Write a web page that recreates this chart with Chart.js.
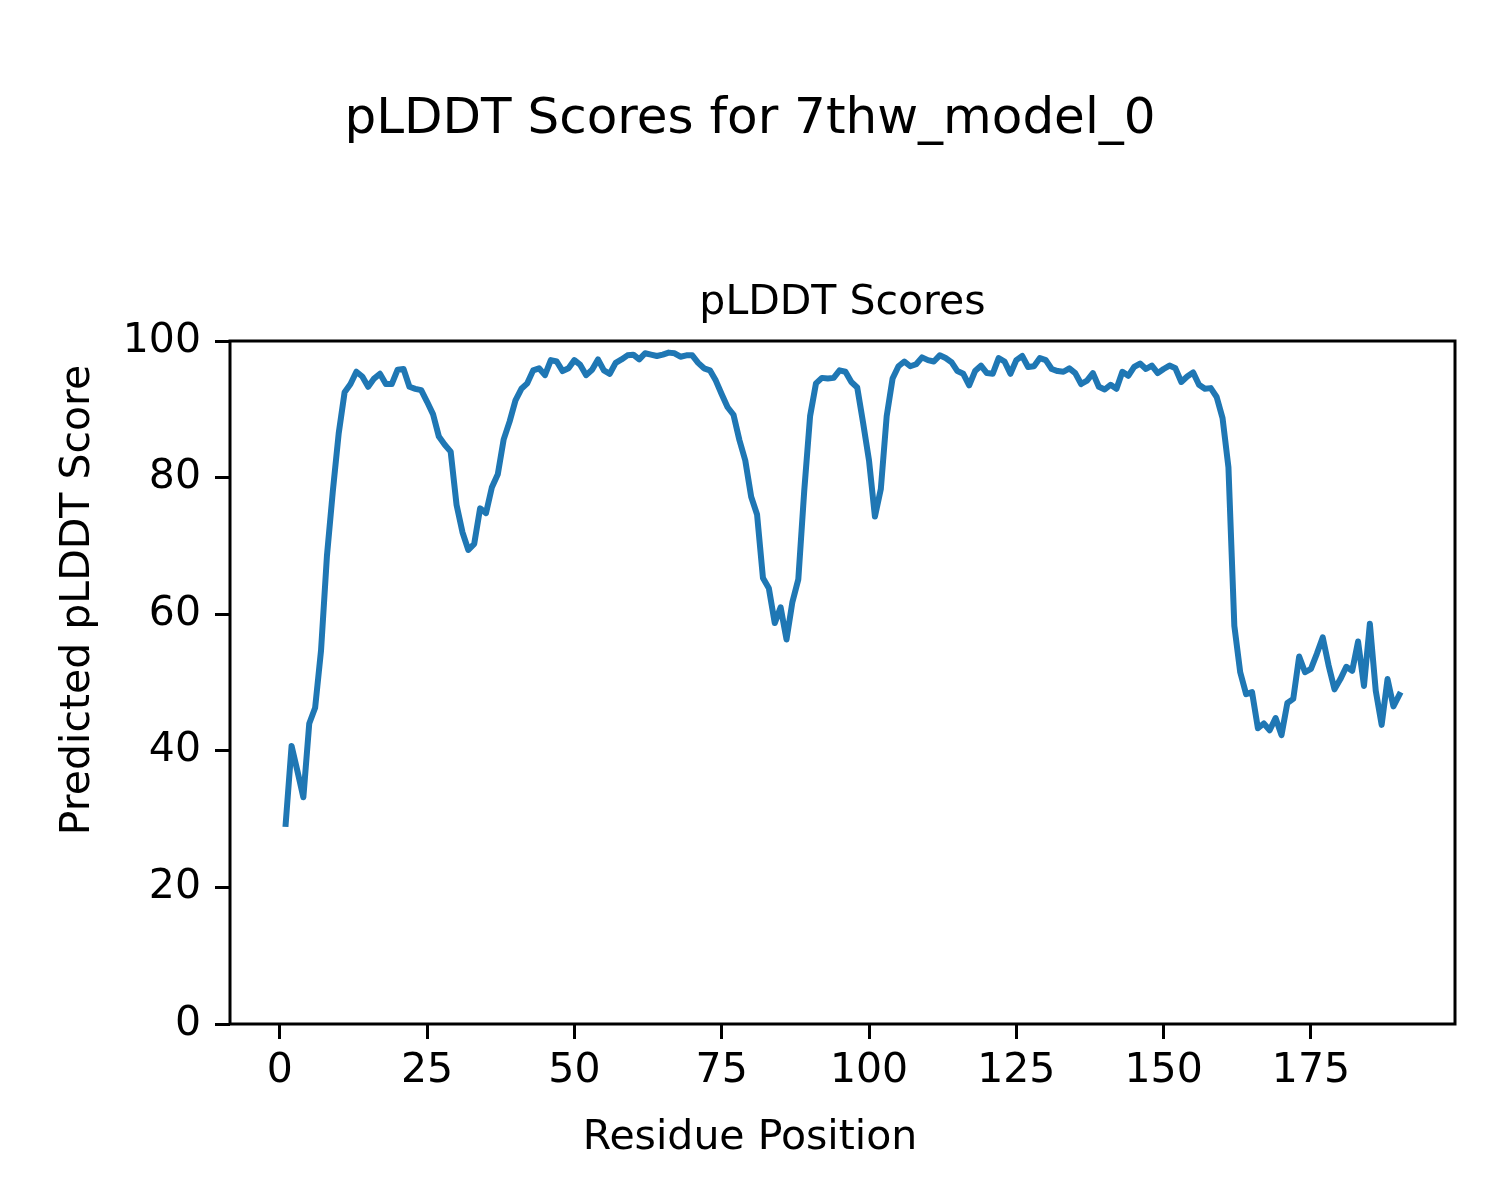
<!DOCTYPE html>
<html>
<head>
<meta charset="UTF-8">
<title>pLDDT Scores</title>
<style>
	body {margin: 0; background: #fff;}
	canvas {display: block;}
</style>
</head>
<body>
	<canvas id="myChart" width="1500" height="1200"></canvas>
<script src="https://cdn.jsdelivr.net/npm/chart.js@4.4.1/dist/chart.umd.min.js"></script>
<script>
	// residue positions 1..190 and the score
	const residues = [];
	for (let i = 1; i <= 190; i++) residues.push(i);

	const scores = [
		29.3, 40.7, 37.0, 33.2, 44.0, 46.3, 54.7, 68.5, 78.0, 86.5,
		92.5, 93.7, 95.5, 94.8, 93.3, 94.5, 95.2, 93.7, 93.7, 95.8,
		95.9, 93.3, 93.0, 92.8, 91.1, 89.3, 86.0, 84.8, 83.8, 76.0,
		72.0, 69.4, 70.3, 75.5, 74.8, 78.6, 80.5, 85.6, 88.2, 91.3,
		93.0, 93.8, 95.7, 96.0, 95.0, 97.2, 97.0, 95.6, 96.0, 97.2,
		96.5, 95.0, 95.8, 97.3, 95.7, 95.2, 96.8, 97.3, 97.9, 98.0,
		97.3, 98.2, 98.0, 97.8, 98.0, 98.3, 98.2, 97.7, 97.9, 97.9,
		96.8, 96.0, 95.7, 94.2, 92.2, 90.3, 89.2, 85.5, 82.5, 77.2,
		74.6, 65.3, 63.8, 58.7, 61.0, 56.3, 61.8, 65.1, 78.0, 89.0,
		93.8, 94.6, 94.5, 94.6, 95.7, 95.5, 94.0, 93.2, 88.0, 82.5,
		74.3, 78.3, 89.0, 94.5, 96.3, 97.0, 96.3, 96.6, 97.6, 97.2,
		97.0, 97.9, 97.5, 96.9, 95.6, 95.2, 93.5, 95.6, 96.4, 95.3,
		95.2, 97.5, 97.0, 95.2, 97.2, 97.8, 96.2, 96.3, 97.5, 97.2,
		95.9, 95.6, 95.5, 96.0, 95.3, 93.7, 94.2, 95.3, 93.3, 92.9,
		93.6, 93.0, 95.5, 94.9, 96.2, 96.7, 95.9, 96.4, 95.3, 95.9,
		96.4, 96.0, 94.0, 94.8, 95.4, 93.6, 93.0, 93.1, 91.8, 88.7,
		81.5, 58.3, 51.5, 48.3, 48.6, 43.3, 44.0, 43.0, 44.8, 42.3,
		47.0, 47.6, 53.8, 51.5, 52.0, 54.2, 56.6, 52.5, 49.0, 50.5,
		52.3, 51.7, 56.0, 49.5, 58.6, 48.8, 43.8, 50.5, 46.5, 48.2
	];

	const xTicks = [0, 25, 50, 75, 100, 125, 150, 175];
	const yTicks = [0, 20, 40, 60, 80, 100];

	const FONT = "'DejaVu Sans', sans-serif";

	// titles, axis labels and the box around the plot (matplotlib style)
	const decorPlugin = {
		id: 'decor',
		afterDraw(chart) {
			const ctx = chart.ctx;
			const a = chart.chartArea;
			ctx.save();
			ctx.fillStyle = '#000';
			ctx.textAlign = 'center';
			ctx.textBaseline = 'middle';
			ctx.font = '50px ' + FONT;
			ctx.fillText('pLDDT Scores for 7thw_model_0', 750, 120);
			ctx.font = '41px ' + FONT;
			ctx.fillText('pLDDT Scores', (a.left + a.right) / 2, 303);
			ctx.fillText('Residue Position', 750, 1138);
			ctx.translate(78, 600);
			ctx.rotate(-Math.PI / 2);
			ctx.fillText('Predicted pLDDT Score', 0, 0);
			ctx.restore();

			ctx.save();
			ctx.strokeStyle = '#000';
			ctx.lineWidth = 3;
			ctx.strokeRect(a.left, a.top, a.right - a.left, a.bottom - a.top);
			ctx.restore();
		}
	};

	new Chart(document.getElementById('myChart'), {
		type: 'line',
		data: {
			datasets: [{
				data: residues.map((r, i) => ({x: r, y: scores[i]})),
				borderColor: '#1f77b4',
				borderWidth: 6,
				borderJoinStyle: 'round',
				borderCapStyle: 'square',
				pointRadius: 0,
				tension: 0,
				fill: false
			}]
		},
		options: {
			responsive: false,
			animation: false,
			devicePixelRatio: 1,
			layout: {padding: {top: 341, right: 45, left: 0, bottom: 0}},
			plugins: {legend: {display: false}, tooltip: {enabled: false}},
			scales: {
				x: {
					type: 'linear',
					min: -8.45,
					max: 199.45,
					afterBuildTicks: (s) => { s.ticks = xTicks.map(v => ({value: v})); },
					afterFit: (s) => { s.height = 176; },
					grid: {drawOnChartArea: false, drawTicks: true, tickLength: 15, color: '#000', lineWidth: 3},
					border: {display: false},
					ticks: {color: '#000', font: {family: FONT, size: 41}, padding: 8, maxRotation: 0, autoSkip: false}
				},
				y: {
					min: 0,
					max: 100,
					afterBuildTicks: (s) => { s.ticks = yTicks.map(v => ({value: v})); },
					afterFit: (s) => { s.width = 230; },
					grid: {drawOnChartArea: false, drawTicks: true, tickLength: 15, color: '#000', lineWidth: 3},
					border: {display: false},
					ticks: {color: '#000', font: {family: FONT, size: 41}, padding: 14}
				}
			}
		},
		plugins: [decorPlugin]
	});
</script>
</body>
</html>
